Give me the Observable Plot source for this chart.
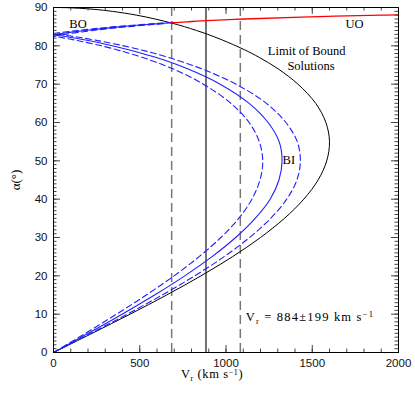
<!DOCTYPE html>
<html>
<head>
<meta charset="utf-8">
<script src="https://cdn.jsdelivr.net/npm/d3@7"></script>
<script src="https://cdn.jsdelivr.net/npm/@observablehq/plot@0.6"></script>
<style>
  html, body { margin: 0; padding: 0; background: #fff; }
  svg { display: block; }
</style>
</head>
<body>
<div id="chart"></div>
<script>
// ---- Data: [Vr (km/s), alpha (deg)] ----
const limitCurve = [[0,0],[224,5],[444,10],[656,15],[855,20],[1038,25],[1200,30],[1339,35],[1451,40],[1534,45],[1584,50],[1600,55],[1579,60],[1520,65],[1417,70],[1302,74],[1192,77],[1106,79],[980,81.5],[894,83],[829,84],[759,85],[680,86],[589,87],[482,88],[341,89],[241,89.5],[152,89.8],[76,89.95],[0,90]];

const biSolid = [[0,0],[201,5],[398,10],[586,15],[761,20],[919,25],[1056,30],[1169,35],[1256,40],[1307,45],[1325,50],[1308,55],[1244,60],[1134,65],[966,70],[777,74],[592,77],[435,79],[295,80.5],[185,81.5],[85,82.3],[0,82.91]];
const boSolid = [[0,82.91],[15,83],[94,83.5],[182,84],[281,84.5],[394,85],[524,85.5],[614,85.8],[680,86]];

const biInner = [[0,0],[185,5],[365,10],[538,15],[699,20],[844,25],[970,30],[1074,35],[1150,40],[1197,45],[1213,50],[1193,55],[1134,60],[1028,65],[869,70],[692,74],[513,77],[365,79],[231,80.5],[125,81.5],[29,82.3],[0,82.52]];
const boInner = [[0,82.52],[66,83],[143,83.5],[229,84],[324,84.5],[434,85],[562,85.5],[644,85.79]];

const biOuter = [[0,0],[216,5],[428,10],[630,15],[819,20],[989,25],[1137,30],[1259,35],[1352,40],[1411,45],[1431,50],[1413,55],[1347,60],[1234,65],[1058,70],[859,74],[664,77],[503,79],[355,80.5],[241,81.5],[137,82.3],[34,83],[0,83.22]];
const boOuter = [[0,83.22],[45,83.5],[138,84],[240,84.5],[355,85],[489,85.5],[581,85.8],[647,86],[711,86.18]];

const uoCurve = [[680,86],[772,86.25],[857,86.5],[1108,87],[1437,87.5],[1902,88],[2000,88.05]];

const vrMean = 884;
const vrErr = 199;

const xTicks = [0, 500, 1000, 1500, 2000];
const yTicks = [0, 10, 20, 30, 40, 50, 60, 70, 80, 90];
const xMinor = d3.range(0, 2001, 100);
const yMinor = d3.range(0, 91, 1);

// annotation labels: [text, Vr, alpha]
const shortLabels = [["BO", 142, 85.6], ["UO", 1745, 85.7], ["BI", 1364, 50.3]];
const limitLabels = [["Limit of Bound", 1468, 78.6], ["Solutions", 1493, 74.7]];

// ---- Layout ----
const W = 415, H = 396, mL = 53, mR = 17, mT = 7, mB = 44;
const plotW = W - mL - mR, plotH = H - mT - mB;
const majorLen = 7, minorLen = 3.5;
const serif = "'Liberation Serif', 'DejaVu Serif', serif";
const sans = "'Liberation Sans', Arial, sans-serif";
const blue = "#1f1fff";

const pts = arr => arr.map(([v, a]) => ({v, a}));
const line = (arr, opts) => Plot.line(pts(arr), {x: "v", y: "a", curve: "catmull-rom", ...opts});

const chart = Plot.plot({
  width: W, height: H,
  marginLeft: mL, marginRight: mR, marginTop: mT, marginBottom: mB,
  style: {background: "#fff", fontFamily: sans, fontSize: "11.5px", color: "#111"},
  x: {domain: [0, 2000], ticks: xTicks, tickSize: 0, tickPadding: 6, tickFormat: d => String(d), label: null},
  y: {domain: [0, 90], ticks: yTicks, tickSize: 0, tickPadding: 6, tickFormat: d => String(d), label: null},
  marks: [
    Plot.ruleX([vrMean - vrErr, vrMean + vrErr], {x: d => d, stroke: "#777", strokeWidth: 1.5, strokeDasharray: "9,5"}),
    Plot.ruleX([vrMean], {x: d => d, stroke: "#000", strokeWidth: 1.1}),
    line(limitCurve, {stroke: "#000", strokeWidth: 1}),
    line(biInner, {stroke: blue, strokeWidth: 1.1, strokeDasharray: "6,3.5"}),
    line(boInner, {stroke: blue, strokeWidth: 1.1, strokeDasharray: "6,3.5"}),
    line(biOuter, {stroke: blue, strokeWidth: 1.1, strokeDasharray: "6,3.5"}),
    line(boOuter, {stroke: blue, strokeWidth: 1.1, strokeDasharray: "6,3.5"}),
    line(biSolid, {stroke: blue, strokeWidth: 1.1}),
    line(boSolid, {stroke: blue, strokeWidth: 1.1}),
    line(uoCurve, {stroke: "#ff0000", strokeWidth: 1.3}),
    // inward ticks on all four sides
    Plot.ruleX(xMinor, {x: d => d, insetTop: plotH - minorLen, stroke: "#444"}),
    Plot.ruleX(xMinor, {x: d => d, insetBottom: plotH - minorLen, stroke: "#444"}),
    Plot.ruleX(xTicks, {x: d => d, insetTop: plotH - majorLen, stroke: "#444"}),
    Plot.ruleX(xTicks, {x: d => d, insetBottom: plotH - majorLen, stroke: "#444"}),
    Plot.ruleY(yMinor, {y: d => d, insetRight: plotW - minorLen, stroke: "#444"}),
    Plot.ruleY(yMinor, {y: d => d, insetLeft: plotW - minorLen, stroke: "#444"}),
    Plot.ruleY(yTicks, {y: d => d, insetRight: plotW - majorLen, stroke: "#444"}),
    Plot.ruleY(yTicks, {y: d => d, insetLeft: plotW - majorLen, stroke: "#444"}),
    Plot.frame({stroke: "#000", strokeWidth: 1}),
    Plot.text(shortLabels, {x: d => d[1], y: d => d[2], text: d => d[0], fontFamily: serif, fontSize: 12.5, fill: "#000", textAnchor: "middle", lineAnchor: "middle"}),
    Plot.text(limitLabels, {x: d => d[1], y: d => d[2], text: d => d[0], fontFamily: serif, fontSize: 12.5, fill: "#000", textAnchor: "middle", lineAnchor: "middle", style: "letter-spacing:1.2px"})
  ]
});

const svg = d3.select(chart);
const xs = chart.scale("x"), ys = chart.scale("y");

// x-axis title
const xt = svg.append("text")
  .attr("x", xs.apply(922)).attr("y", 378)
  .attr("text-anchor", "middle")
  .attr("font-family", serif).attr("font-size", 12.5).attr("fill", "#000")
  .style("letter-spacing", "0.6px");
xt.append("tspan").text("V");
xt.append("tspan").attr("font-size", 8).attr("dy", 2.5).text("r");
xt.append("tspan").attr("dy", -2.5).text(" (km s");
xt.append("tspan").attr("font-size", 8).attr("dy", -3.5).text("−1");
xt.append("tspan").attr("dy", 3.5).text(")");

// y-axis title
svg.append("text")
  .attr("transform", "translate(19.5,180) rotate(-90)")
  .attr("text-anchor", "middle")
  .attr("font-family", serif).attr("font-size", 13).attr("fill", "#000")
  .text("α(°)");

// measurement annotation
const an = svg.append("text")
  .attr("x", xs.apply(1117)).attr("y", ys.apply(9.1) + 4)
  .attr("text-anchor", "start")
  .attr("font-family", serif).attr("font-size", 12.5).attr("fill", "#000")
  .style("letter-spacing", "1.2px")
  .attr("xml:space", "preserve");
an.append("tspan").text("V");
an.append("tspan").attr("font-size", 8.5).attr("dy", 2.5).text("r");
an.append("tspan").attr("dy", -2.5).text(` = ${vrMean}±${vrErr} km s`);
an.append("tspan").attr("font-size", 8.5).attr("dy", -4.5).text("−1");

document.getElementById("chart").appendChild(chart);
</script>
</body>
</html>
